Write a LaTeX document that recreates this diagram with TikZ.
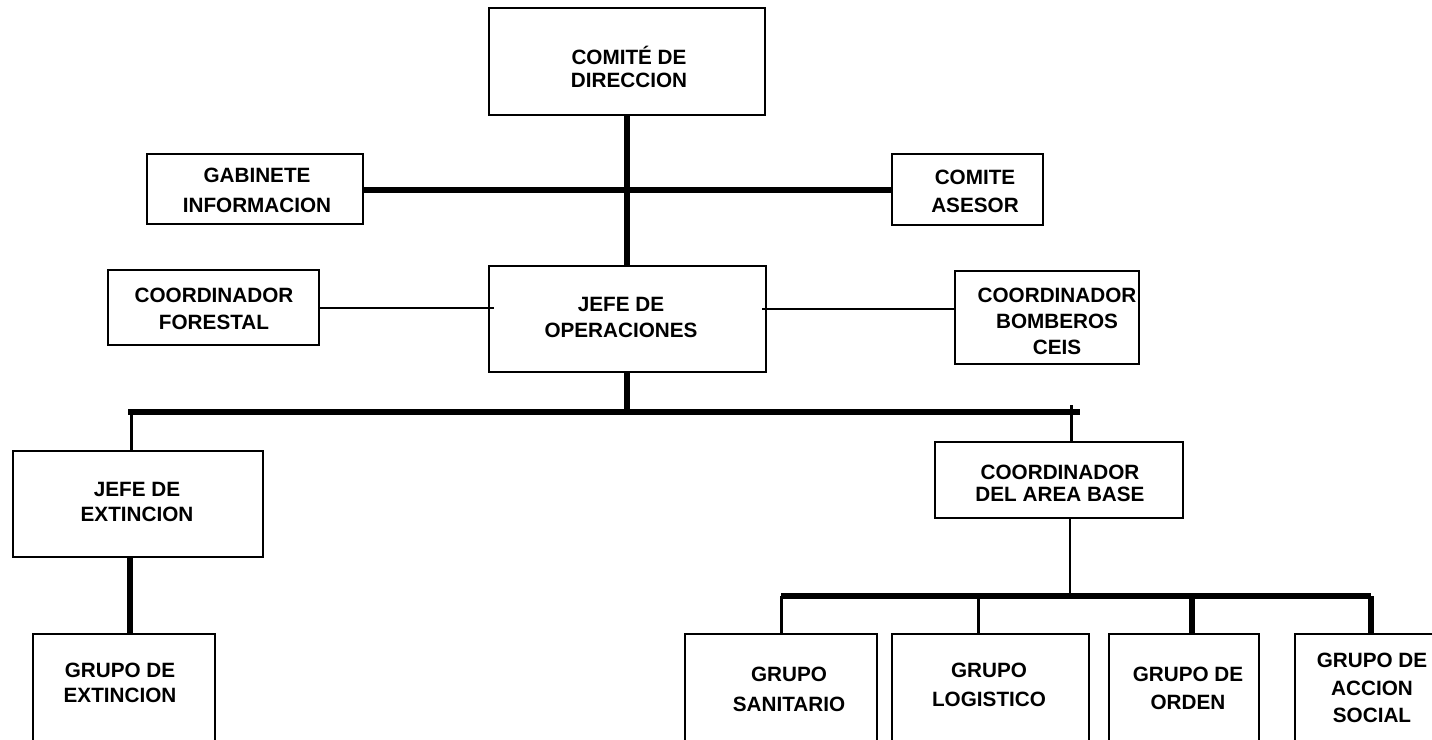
\documentclass[tikz,border=0pt]{standalone}
\usepackage{fontspec}
\setmainfont{Liberation Sans}
\usetikzlibrary{fit}
\begin{document}
\begin{tikzpicture}[x=1pt,y=-1pt,
  box/.style={draw=black, line width=1.8pt, inner sep=0pt, fill=white},
  lbl/.style={inner sep=0pt, align=center, font=\bfseries\fontsize{20.7}{#1}\selectfont},
  lbl/.default=22,
  heavy/.style={line width=5.5pt},
  medium/.style={line width=3pt},
  light/.style={line width=2pt}]
\clip (0,0) rectangle (1432,739);
\fill[white] (0,0) rectangle (1432,739);
% coordinates for connector ends
\coordinate (busL) at (131,412);
\coordinate (busR) at (1077,412);
\coordinate (tick) at (1071,405);
\coordinate (bus2L) at (781,596);
\coordinate (bus2R) at (1371,596);
\coordinate (xlog) at (978,596);
\coordinate (xord) at (1192,596);
\coordinate (xjex) at (130,412);
% connectors (drawn first, boxes on top)
\draw[heavy] (627,115) coordinate (dirS) -- (627,266) coordinate (opsN);
\draw[heavy] (363,190) coordinate (gabE) -- (892,190) coordinate (aseW);
\draw[heavy] (627,372) coordinate (opsS) -- (opsS |- busL);
\draw[heavy, line cap=rect] (busL) -- (busR);
\draw[medium] (busL) -- (busL |- 0,451);
\draw[medium] (tick) -- (1071,442);
\draw[heavy] (xjex |- 0,557) -- (xjex |- 0,634);
\draw[light] (1070,518) -- (1070,596);
\draw[heavy] (bus2L) -- (bus2R);
\draw[medium] (bus2L) -- (781,634);
\draw[medium] (xlog) -- (978,634);
\draw[heavy] (xord) -- (1192,634);
\draw[heavy] (bus2R) -- (1371,634);
% boxes
\node[box, fit={(489,8) (765,115)}] (dir) {};
\node[box, fit={(147,154) (363,224)}] (gab) {};
\node[box, fit={(892,154) (1043,225)}] (ase) {};
\node[box, fit={(108,270) (319,345)}] (for) {};
\node[box, fit={(489,266) (766,372)}] (ops) {};
\node[box, fit={(955,271) (1139,364)}] (bom) {};
\node[box, fit={(13,451) (263,557)}] (jex) {};
\node[box, fit={(935,442) (1183,518)}] (cab) {};
\node[box, fit={(33,634) (215,760)}] (gex) {};
\node[box, fit={(685,634) (877,760)}] (san) {};
\node[box, fit={(892,634) (1089,760)}] (log) {};
\node[box, fit={(1109,634) (1259,760)}] (ord) {};
\node[box, fit={(1295,634) (1450,760)}] (acc) {};
% thin side connectors
\draw[light] (for.east |- 0,308) -- (494,308);
\draw[light] (762,309) -- (bom.west |- 0,309);
% labels
\node[lbl=22.3] (dirT) at (629,67) {COMITÉ DE\\DIRECCION};
\node[lbl=30] (gabT) at (257,190.5) {GABINETE\\INFORMACION};
\node[lbl=28] (aseT) at (975,191) {COMITE\\ASESOR};
\node[lbl=27] (forT) at (214,309) {COORDINADOR\\FORESTAL};
\node[lbl=26] (opsT) at (621,317) {JEFE DE\\OPERACIONES};
\node[lbl=26] (bomT) at (1057,321.5) {COORDINADOR\\BOMBEROS\\CEIS};
\node[lbl=25] (jexT) at (137,502) {JEFE DE\\EXTINCION};
\node[lbl=22] (cabT) at (1060,483.5) {COORDINADOR\\DEL AREA BASE};
\node[lbl=25] (gexT) at (120,683) {GRUPO DE\\EXTINCION};
\node[lbl=30] (sanT) at (789,689.5) {GRUPO\\SANITARIO};
\node[lbl=29.3] (logT) at (989,685) {GRUPO\\LOGISTICO};
\node[lbl=28.3] (ordT) at (1188,688.5) {GRUPO DE\\ORDEN};
\node[lbl=27.5] (accT) at (1372,688) {GRUPO DE\\ACCION\\SOCIAL};
\end{tikzpicture}
\end{document}
